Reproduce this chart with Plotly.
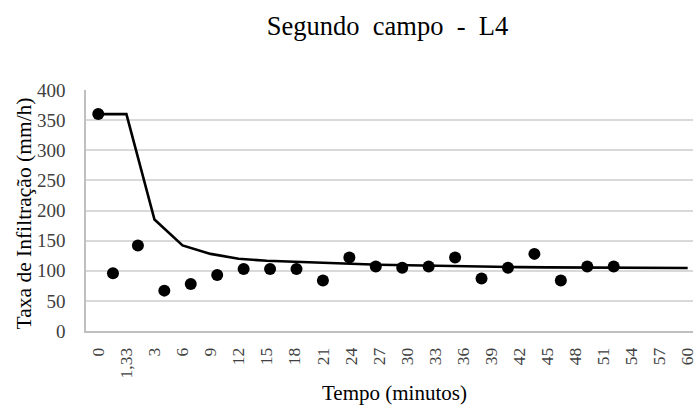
import plotly.graph_objects as go

# Category labels of the fitted curve (time in minutes)
categorias = ["0", "1,33", "3", "6", "9", "12", "15", "18", "21", "24", "27",
              "30", "33", "36", "39", "42", "45", "48", "51", "54", "57", "60"]
# Fitted infiltration rate (mm/h) at each category
taxa_ajustada = [360, 360, 185, 142, 128, 120, 116.5, 114.5, 113, 111.5, 110,
                 109, 108, 107.3, 106.6, 106, 105.6, 105.2, 105, 104.8, 104.6, 104.5]

# Measured points: time (min) and infiltration rate (mm/h)
tempo_medido = [0, 1.67, 4.5, 7.5, 10.5, 13.5, 16.5, 19.5, 22.5, 25.5, 28.5,
                31.5, 34.5, 37.5, 40.5, 43.5, 46.5, 49.5, 52.5, 55.5, 58.5]
taxa_medida = [360, 96, 142, 67, 78, 93, 103, 103, 103, 84, 122,
               107, 105, 107, 122, 87, 105, 128, 84, 107, 107]

serif = "Liberation Serif"
grid = "#d9d9d9"
sp = "\u00a0\u00a0"

fig = go.Figure()

fig.add_trace(go.Scatter(
    x=list(range(len(categorias))), y=taxa_ajustada,
    mode="lines", line=dict(color="black", width=2.6),
    showlegend=False, hoverinfo="skip",
))

fig.add_trace(go.Scatter(
    x=tempo_medido, y=taxa_medida, xaxis="x2",
    mode="markers", marker=dict(color="black", size=12),
    showlegend=False,
))

fig.update_layout(
    width=697, height=408,
    margin=dict(l=86, r=0, t=90, b=77),
    paper_bgcolor="white", plot_bgcolor="white",
    font=dict(family=serif, color="#404040", size=17),
    title=dict(text=f"Segundo{sp}campo{sp}-{sp}L4", x=0.556, xanchor="center",
               y=0.936, yanchor="middle",
               font=dict(family=serif, size=26.5, color="black")),
    xaxis=dict(
        range=[-0.44, 21.19],
        tickmode="array", tickvals=list(range(len(categorias))), ticktext=categorias,
        tickangle=-90, tickfont=dict(family=serif, size=17.5, color="#404040"),
        ticklabeloverflow="allow",
        showgrid=False, zeroline=False,
        showline=True, linecolor="#bfbfbf", linewidth=1.5,
        ticks="", ticklabelstandoff=8,
    ),
    xaxis2=dict(
        range=[-1.39, 67.5], overlaying="x", visible=False,
    ),
    yaxis=dict(
        range=[0, 400], dtick=50,
        showgrid=True, gridcolor=grid, gridwidth=1.5,
        zeroline=False,
        showline=True, linecolor="#bfbfbf", linewidth=1.5,
        tickfont=dict(family=serif, size=19, color="#404040"),
        ticks="", ticklabelstandoff=15,
    ),
    annotations=[
        dict(text="Tempo (minutos)", xref="paper", yref="paper",
             x=0.509, y=-0.257, xanchor="center", yanchor="middle",
             showarrow=False, font=dict(family=serif, size=21, color="black")),
        dict(text="Taxa de Infiltração (mm/h)", xref="paper", yref="paper",
             x=-0.103, y=0.49, xanchor="center", yanchor="middle", textangle=-90,
             showarrow=False, font=dict(family=serif, size=21.5, color="black")),
    ],
)

fig.write_html("out.html")
